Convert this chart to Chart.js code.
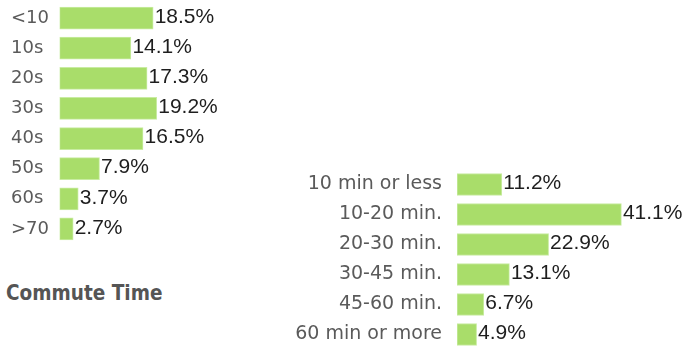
<!DOCTYPE html>
<html>
<head>
<meta charset="utf-8">
<script src="https://cdn.jsdelivr.net/npm/chart.js@4/dist/chart.umd.min.js"></script>
<style>
  html, body { margin: 0; padding: 0; background: #fff; }
  body { width: 688px; height: 346px; position: relative; overflow: hidden; }
  .box { position: absolute; }
  #title {
    position: absolute; left: 6px; top: 283px;
    font: bold 21px "DejaVu Sans", Verdana, sans-serif;
    line-height: 21px; color: #555; white-space: nowrap;
    transform: scaleX(0.88); transform-origin: left top;
  }
</style>
</head>
<body>
<div class="box" style="left:0;top:0;width:262px;height:246px"><canvas id="ageChart"></canvas></div>
<div class="box" style="left:270px;top:166px;width:418px;height:186px"><canvas id="commuteChart"></canvas></div>
<div id="title">Commute Time</div>
<script>
// age groups
const ageLabels = ["<10", "10s", "20s", "30s", "40s", "50s", "60s", ">70"];
const ageValues = [18.5, 14.1, 17.3, 19.2, 16.5, 7.9, 3.7, 2.7];

// commute time
const commuteLabels = ["10 min or less", "10-20 min.", "20-30 min.", "30-45 min.", "45-60 min.", "60 min or more"];
const commuteValues = [11.2, 41.1, 22.9, 13.1, 6.7, 4.9];

const barFill = '#a9dd6a';
const barEdge = '#c9eca2';

// draws the "18.5%" labels right after each bar
const valueLabels = {
    id: 'valueLabels',
    afterDatasetsDraw(chart) {
        const ctx = chart.ctx;
        const data = chart.data.datasets[0].data;
        ctx.save();
        ctx.font = '21px "Liberation Sans", Arial, sans-serif';
        ctx.fillStyle = '#1e1e1e';
        ctx.textAlign = 'left';
        ctx.textBaseline = 'middle';
        chart.getDatasetMeta(0).data.forEach((bar, i) => {
            ctx.fillText(data[i].toFixed(1) + '%', bar.x + 1.5, bar.y - 1);
        });
        ctx.restore();
    }
};

function makeChart(id, labels, values, opts) {
    return new Chart(document.getElementById(id).getContext('2d'), {
        type: 'bar',
        data: {
            labels: labels,
            datasets: [{
                data: values,
                backgroundColor: barFill,
                borderColor: barEdge,
                borderWidth: 1,
                borderSkipped: false,
                barThickness: 22
            }]
        },
        options: {
            indexAxis: 'y',
            responsive: true,
            maintainAspectRatio: false,
            animation: false,
            layout: { padding: opts.padding },
            plugins: {
                legend: { display: false },
                tooltip: { enabled: false }
            },
            scales: {
                x: {
                    display: false,
                    min: 0,
                    max: opts.max
                },
                y: {
                    grid: { display: false, drawTicks: false },
                    border: { display: false },
                    ticks: {
                        color: '#5a5a5a',
                        padding: opts.tickPad,
                        crossAlign: opts.align,
                        font: { family: '"DejaVu Sans", Verdana, sans-serif', size: opts.fontSize }
                    },
                    afterFit(scale) {
                        scale.width = opts.axisWidth;
                        scale.paddingTop = 0;
                        scale.paddingBottom = 0;
                    }
                }
            }
        },
        plugins: [valueLabels]
    });
}

makeChart('ageChart', ageLabels, ageValues, {
    padding: { left: 11, top: 3, bottom: 2, right: 0 },
    max: 40, tickPad: 4, align: 'far', fontSize: 18, axisWidth: 48.5
});

makeChart('commuteChart', commuteLabels, commuteValues, {
    padding: { left: 0, top: 3.5, bottom: 2.5, right: 31 },
    max: 50, tickPad: 15, align: 'near', fontSize: 19, axisWidth: 187
});
</script>
</body>
</html>
